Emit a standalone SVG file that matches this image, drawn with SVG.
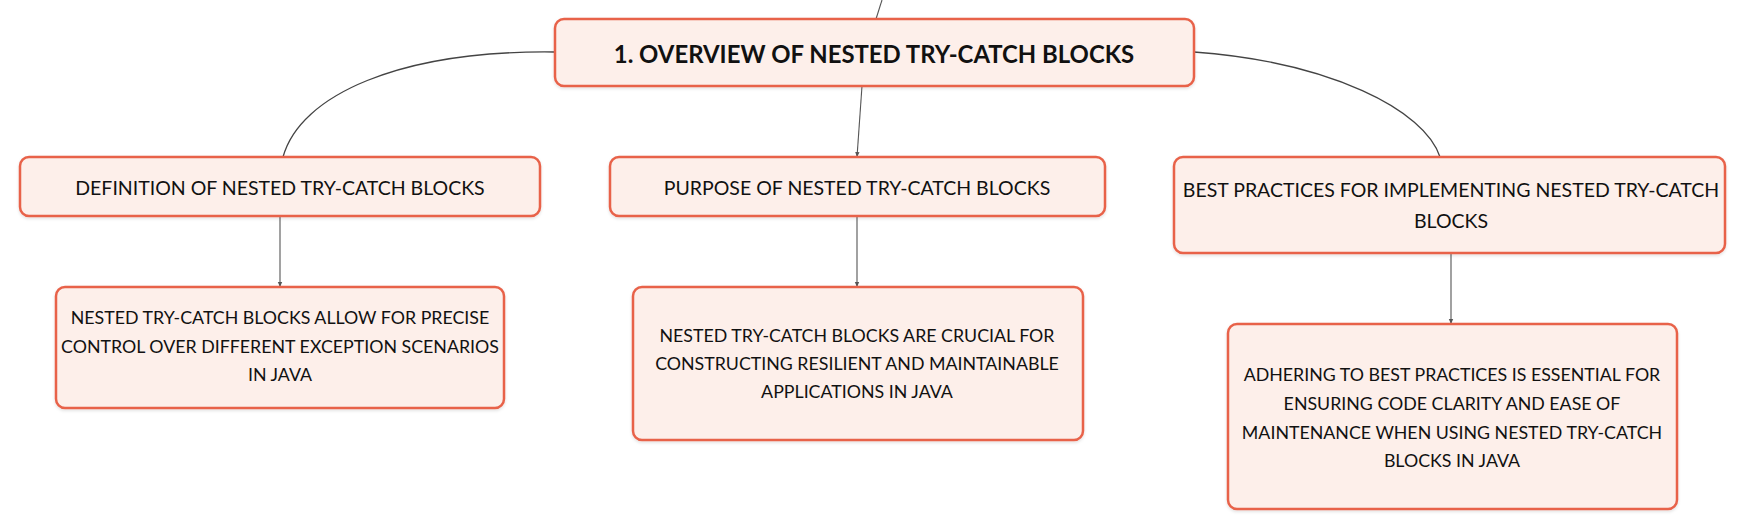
<svg xmlns="http://www.w3.org/2000/svg" width="1750" height="530" viewBox="0 0 1750 530">
<defs>
<style>
.box{fill:#fdefea;stroke:#e8624a;stroke-width:2.5}
.t{font-family:Lato,"Open Sans","Liberation Sans",sans-serif;fill:#111;text-anchor:middle;dominant-baseline:central}
.h{font-size:23.9px;font-weight:bold}
.c{font-size:19.5px}
.g{font-size:17.8px}
.ln{fill:none;stroke:#555;stroke-width:1.1}
.cv{fill:none;stroke:#444;stroke-width:1.3}
</style>
<marker id="ar" markerWidth="6" markerHeight="6" refX="5" refY="3" orient="auto" markerUnits="userSpaceOnUse">
<path d="M0,0.8 L5,3 L0,5.2 Z" fill="#555"/>
</marker>
<filter id="sh" x="-5%" y="-10%" width="110%" height="130%">
<feDropShadow dx="0" dy="1.5" stdDeviation="1.5" flood-color="#000" flood-opacity="0.12"/>
</filter>
</defs>
<g id="connectors">
<path class="ln" d="M882,0 L876,19"/>
<path class="cv" d="M555,52 C400,50 300,95 283,157"/>
<path class="cv" d="M1194,52 C1330,62 1425,110 1440,157"/>
<path class="ln" d="M862,86 L857,157" marker-end="url(#ar)"/>
<path class="ln" d="M280,216 L280,287" marker-end="url(#ar)"/>
<path class="ln" d="M857,216 L857,287" marker-end="url(#ar)"/>
<path class="ln" d="M1451,253 L1451,324" marker-end="url(#ar)"/>
</g>
<g id="root">
<rect class="box" x="555" y="19" width="639" height="67" rx="9" filter="url(#sh)"/>
<text class="t h" x="874" y="53">1. OVERVIEW OF NESTED TRY-CATCH BLOCKS</text>
</g>
<g id="definition">
<rect class="box" x="20" y="157" width="520" height="59" rx="9" filter="url(#sh)"/>
<text class="t c" x="280" y="187">DEFINITION OF NESTED TRY-CATCH BLOCKS</text>
</g>
<g id="purpose">
<rect class="box" x="610" y="157" width="495" height="59" rx="9" filter="url(#sh)"/>
<text class="t c" x="857" y="187">PURPOSE OF NESTED TRY-CATCH BLOCKS</text>
</g>
<g id="best">
<rect class="box" x="1174" y="157" width="551" height="96" rx="9" filter="url(#sh)"/>
<text class="t c" x="1451" y="189">BEST PRACTICES FOR IMPLEMENTING NESTED TRY-CATCH</text>
<text class="t c" x="1451" y="220">BLOCKS</text>
</g>
<g id="definition-detail">
<rect class="box" x="56" y="287" width="448" height="121" rx="9" filter="url(#sh)"/>
<text class="t g" x="280" y="317">NESTED TRY-CATCH BLOCKS ALLOW FOR PRECISE</text>
<text class="t g" x="280" y="346">CONTROL OVER DIFFERENT EXCEPTION SCENARIOS</text>
<text class="t g" x="280" y="374">IN JAVA</text>
</g>
<g id="purpose-detail">
<rect class="box" x="633" y="287" width="450" height="153" rx="9" filter="url(#sh)"/>
<text class="t g" x="857" y="335">NESTED TRY-CATCH BLOCKS ARE CRUCIAL FOR</text>
<text class="t g" x="857" y="363">CONSTRUCTING RESILIENT AND MAINTAINABLE</text>
<text class="t g" x="857" y="391">APPLICATIONS IN JAVA</text>
</g>
<g id="best-detail">
<rect class="box" x="1228" y="324" width="449" height="185" rx="9" filter="url(#sh)"/>
<text class="t g" x="1452" y="374">ADHERING TO BEST PRACTICES IS ESSENTIAL FOR</text>
<text class="t g" x="1452" y="403">ENSURING CODE CLARITY AND EASE OF</text>
<text class="t g" x="1452" y="432">MAINTENANCE WHEN USING NESTED TRY-CATCH</text>
<text class="t g" x="1452" y="460">BLOCKS IN JAVA</text>
</g>
</svg>
